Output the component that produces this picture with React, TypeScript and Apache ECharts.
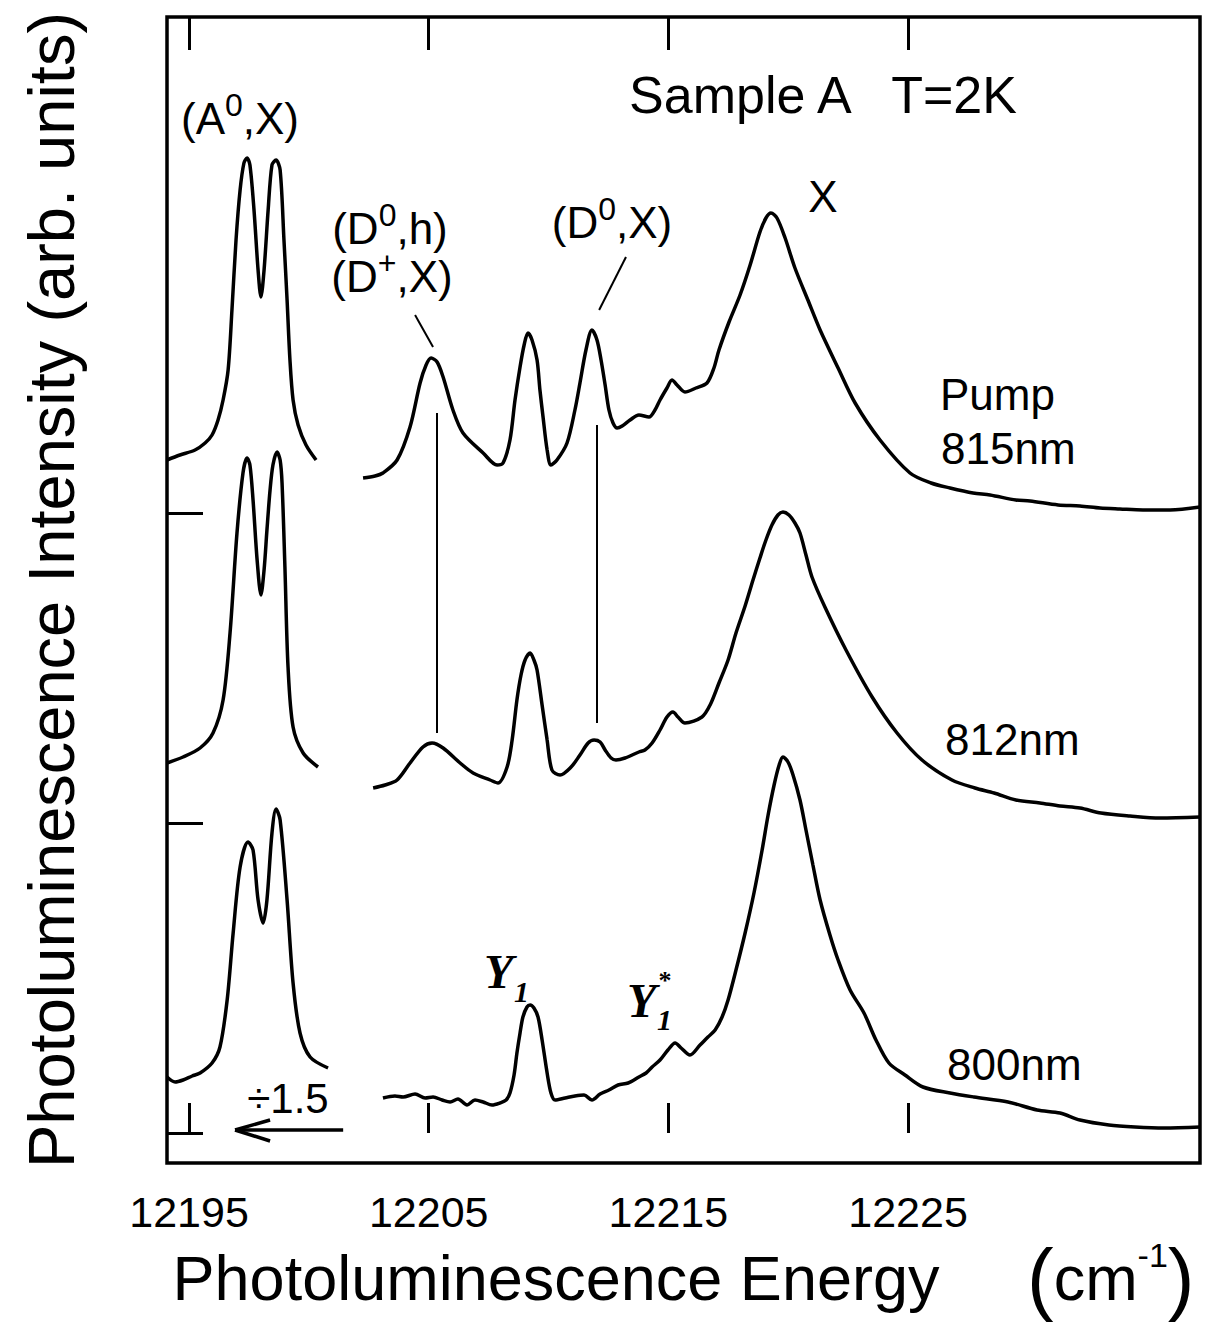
import React, { useEffect, useRef } from "react";
import * as echarts from "echarts";

// Energy axis (cm^-1) and intensity (arb. units, spectra offset vertically)
const xTicks = [12195, 12205, 12215, 12225];
const yTicks = [0, 310, 620];
const xRange = [12194.08, 12237.18];
const yRange = [-30, 1116];

// Pump 815 nm — (A0,X) region (divided by 1.5)
const pump815Left = [
  [12194.08, 673], [12194.62, 678], [12195.25, 683], [12195.67, 690], [12195.96, 698],
  [12196.21, 713], [12196.42, 733], [12196.63, 763], [12196.79, 823], [12196.96, 893],
  [12197.13, 943], [12197.29, 970], [12197.42, 975], [12197.54, 968], [12197.71, 923],
  [12197.88, 863], [12198.0, 836], [12198.13, 863], [12198.3, 923], [12198.46, 968],
  [12198.63, 973], [12198.8, 963], [12198.96, 893], [12199.09, 833], [12199.21, 773],
  [12199.34, 733], [12199.55, 708], [12199.88, 688], [12200.3, 673],
];
// Pump 815 nm — main region
const pump815Right = [
  [12202.26, 655], [12202.76, 657], [12203.09, 660], [12203.68, 673], [12204.22, 706],
  [12204.64, 750], [12204.89, 768], [12205.1, 775], [12205.35, 771], [12205.6, 756],
  [12206.01, 723], [12206.43, 700], [12207.27, 680], [12207.85, 668], [12208.1, 670],
  [12208.39, 693], [12208.6, 733], [12208.81, 766], [12208.98, 788], [12209.14, 800],
  [12209.31, 793], [12209.52, 773], [12209.64, 743], [12209.77, 716], [12209.94, 683],
  [12210.1, 668], [12210.35, 673], [12210.77, 690], [12211.1, 723], [12211.31, 750],
  [12211.56, 783], [12211.81, 803], [12212.02, 793], [12212.19, 773], [12212.36, 748],
  [12212.52, 723], [12212.69, 710], [12212.86, 705], [12213.07, 707], [12213.4, 713],
  [12213.77, 718], [12214.19, 716], [12214.44, 723], [12214.65, 733], [12214.94, 745],
  [12215.15, 753], [12215.36, 748], [12215.69, 741], [12216.15, 745], [12216.61, 750],
  [12216.9, 765], [12217.11, 783], [12217.53, 811], [12217.99, 838], [12218.41, 868],
  [12218.82, 901], [12219.07, 915], [12219.28, 920], [12219.53, 915], [12219.87, 895],
  [12220.28, 865], [12220.82, 833], [12221.33, 803], [12222.08, 765], [12222.79, 730],
  [12223.83, 693], [12225.08, 660], [12225.96, 650], [12226.75, 645], [12227.71, 640],
  [12228.42, 638], [12229.5, 633], [12230.09, 632], [12231.26, 628], [12232.17, 627],
  [12233.01, 625], [12233.84, 624], [12234.8, 623], [12235.93, 623], [12237.18, 626],
];

// 812 nm — (A0,X) region (divided by 1.5)
const pump812Left = [
  [12194.08, 370], [12194.75, 376], [12195.46, 385], [12196.0, 400], [12196.42, 433],
  [12196.71, 500], [12197.0, 600], [12197.25, 660], [12197.42, 675], [12197.54, 668],
  [12197.67, 633], [12197.84, 573], [12198.0, 538], [12198.13, 563], [12198.25, 603],
  [12198.38, 643], [12198.5, 668], [12198.67, 681], [12198.8, 673], [12198.88, 650],
  [12199.0, 566], [12199.13, 466], [12199.34, 406], [12199.76, 380], [12200.38, 366],
];
// 812 nm — main region
const pump812Right = [
  [12202.68, 345], [12203.18, 348], [12203.68, 353], [12204.22, 370], [12204.76, 386],
  [12205.14, 390], [12205.6, 385], [12206.31, 370], [12206.85, 360], [12207.56, 353],
  [12207.89, 350], [12208.27, 366], [12208.48, 393], [12208.68, 433], [12208.85, 458],
  [12209.02, 473], [12209.23, 480], [12209.39, 473], [12209.52, 463], [12209.73, 428],
  [12209.94, 393], [12210.14, 363], [12210.48, 358], [12210.94, 366], [12211.31, 378],
  [12211.65, 390], [12211.9, 393], [12212.15, 391], [12212.36, 383], [12212.61, 375],
  [12212.81, 373], [12213.19, 375], [12213.77, 381], [12214.02, 383], [12214.32, 390],
  [12214.65, 403], [12214.94, 416], [12215.19, 421], [12215.4, 416], [12215.69, 410],
  [12216.4, 416], [12216.74, 428], [12217.11, 450], [12217.49, 473], [12217.82, 500],
  [12218.2, 527], [12218.53, 553], [12218.82, 575], [12219.07, 593], [12219.32, 608],
  [12219.57, 618], [12219.78, 621], [12220.03, 618], [12220.28, 610], [12220.49, 600],
  [12220.74, 578], [12220.99, 556], [12221.53, 526], [12222.41, 483], [12223.5, 436],
  [12224.54, 400], [12225.58, 373], [12226.83, 353], [12227.79, 345], [12228.59, 340],
  [12229.5, 333], [12230.5, 330], [12231.34, 327], [12232.17, 325], [12233.05, 320],
  [12234.26, 317], [12235.51, 315], [12237.18, 316],
];

// 800 nm — (A0,X) region (divided by 1.5)
const pump800Left = [
  [12194.08, 56], [12194.42, 51], [12194.75, 53], [12195.13, 57], [12195.46, 60],
  [12195.96, 70], [12196.29, 86], [12196.59, 133], [12196.84, 200], [12197.13, 266],
  [12197.46, 291], [12197.67, 283], [12197.88, 233], [12198.09, 210], [12198.25, 233],
  [12198.46, 300], [12198.63, 324], [12198.8, 313], [12199.09, 233], [12199.34, 150],
  [12199.63, 100], [12200.05, 76], [12200.8, 65],
];
// 800 nm — main region
const pump800Right = [
  [12203.09, 35], [12203.59, 37], [12203.93, 36], [12204.43, 39], [12204.85, 35],
  [12205.18, 36], [12205.56, 33], [12205.89, 31], [12206.22, 34], [12206.6, 28],
  [12206.93, 33], [12207.27, 31], [12207.64, 28], [12207.97, 30], [12208.23, 33],
  [12208.39, 40], [12208.56, 58], [12208.68, 80], [12208.81, 100], [12208.93, 116],
  [12209.1, 126], [12209.23, 128], [12209.39, 125], [12209.56, 116], [12209.73, 93],
  [12209.94, 60], [12210.1, 40], [12210.27, 33], [12210.69, 35], [12211.1, 37],
  [12211.48, 38], [12211.81, 33], [12212.15, 39], [12212.52, 43], [12212.9, 48],
  [12213.32, 50], [12213.77, 56], [12214.07, 60], [12214.32, 66], [12214.65, 73],
  [12214.98, 83], [12215.28, 90], [12215.53, 85], [12215.9, 78], [12216.32, 88],
  [12216.65, 96], [12216.95, 103], [12217.24, 116], [12217.49, 133], [12217.82, 163],
  [12218.2, 200], [12218.57, 240], [12218.91, 283], [12219.16, 318], [12219.41, 348],
  [12219.62, 368], [12219.78, 376], [12219.99, 371], [12220.2, 358], [12220.49, 333],
  [12220.74, 303], [12221.03, 268], [12221.33, 233], [12221.74, 198], [12222.08, 173],
  [12222.58, 143], [12223.16, 120], [12223.66, 93], [12224.2, 70], [12224.87, 58],
  [12225.62, 46], [12226.75, 40], [12227.75, 36], [12229.17, 31], [12230.38, 23],
  [12231.34, 20], [12232.17, 13], [12233.38, 8], [12234.47, 6], [12235.68, 5],
  [12237.18, 6],
];

// Annotation lines (data coordinates): peak markers, leaders and the ÷1.5 arrow
const markerLines = [
  [[12205.35, 720], [12205.35, 400]],
  [[12212.02, 708], [12212.02, 410]],
  [[12204.43, 818], [12205.18, 786]],
  [[12213.23, 876], [12212.11, 823]],
];
const arrowLines = [
  [[12201.43, 3], [12196.92, 3]],
  [[12196.92, 3], [12198.38, 13]],
  [[12196.92, 3], [12198.38, -8]],
];

const FONT = "'Liberation Sans', Arial, Helvetica, sans-serif";
const SERIF = "'Liberation Serif', 'Times New Roman', serif";

export default function App() {
  const ref = useRef<HTMLDivElement>(null);

  useEffect(() => {
    if (!ref.current) return;
    const chart = echarts.init(ref.current, null, { renderer: "svg" });

    const lineSeries = (name: string, data: number[][], extra: any = {}) => ({
      name,
      type: "line",
      data,
      showSymbol: false,
      symbol: "none",
      smooth: 0.3,
      clip: true,
      lineStyle: { color: "#000", width: 3.5 },
      ...extra,
    });

    const toMark = (lines: number[][][], width: number) =>
      lines.map((l) => [
        { coord: l[0], lineStyle: { color: "#000", width } },
        { coord: l[1] },
      ]);

    const supStyle = { fontSize: 32, verticalAlign: "top", lineHeight: 28, fontFamily: FONT, fill: "#000" };
    const yLetter = (x: number, y: number) => ({
      type: "text",
      x,
      y,
      style: {
        text: "Y",
        fontSize: 48,
        lineHeight: 34,
        fontStyle: "italic",
        fontWeight: "bold",
        fontFamily: SERIF,
        fill: "#000",
        align: "left",
        verticalAlign: "middle",
      },
    });
    const subOne = (x: number, y: number) => ({
      type: "text",
      x,
      y,
      style: {
        text: "1",
        fontSize: 30,
        lineHeight: 22,
        fontStyle: "italic",
        fontWeight: "bold",
        fontFamily: SERIF,
        fill: "#000",
        align: "left",
        verticalAlign: "middle",
      },
    });

    const option: any = {
      animation: false,
      backgroundColor: "#fff",
      grid: {
        left: 167,
        right: 12,
        top: 17,
        bottom: 173,
        show: true,
        borderColor: "#000",
        borderWidth: 3.5,
        backgroundColor: "transparent",
      },
      xAxis: [
        {
          type: "value",
          min: xRange[0],
          max: xRange[1],
          position: "bottom",
          axisLine: { show: false },
          splitLine: { show: false },
          axisTick: {
            show: true,
            inside: true,
            length: 30,
            customValues: xTicks,
            lineStyle: { color: "#000", width: 3 },
          },
          axisLabel: {
            show: true,
            customValues: xTicks,
            margin: 27,
            fontSize: 43,
            fontFamily: FONT,
            color: "#000",
            formatter: (v: number) => String(Math.round(v)),
          },
          name: "Photoluminescence Energy     {p|(}cm{sup|-1}{p|)}",
          nameLocation: "middle",
          nameGap: 72,
          nameTextStyle: {
            fontSize: 63,
            fontFamily: FONT,
            color: "#000",
            rich: {
              p: { fontSize: 80, fontFamily: FONT, color: "#000" },
              sup: { fontSize: 34, fontFamily: FONT, color: "#000", verticalAlign: "top" },
            },
          },
        },
        {
          type: "value",
          min: xRange[0],
          max: xRange[1],
          position: "top",
          axisLine: { show: false },
          splitLine: { show: false },
          axisLabel: { show: false },
          axisTick: {
            show: true,
            inside: true,
            length: 33,
            customValues: xTicks,
            lineStyle: { color: "#000", width: 3 },
          },
        },
      ],
      yAxis: {
        type: "value",
        min: yRange[0],
        max: yRange[1],
        axisLine: { show: false },
        splitLine: { show: false },
        axisLabel: { show: false },
        axisTick: {
          show: true,
          inside: true,
          length: 36,
          customValues: yTicks,
          lineStyle: { color: "#000", width: 3 },
        },
        name: "Photoluminescence Intensity (arb. units)",
        nameLocation: "middle",
        nameGap: 83,
        nameTextStyle: { fontSize: 65, fontFamily: FONT, color: "#000" },
      },
      series: [
        lineSeries("Pump 815nm (A0,X)", pump815Left),
        lineSeries("Pump 815nm", pump815Right, {
          markLine: {
            silent: true,
            symbol: "none",
            label: { show: false },
            lineStyle: { color: "#000", width: 2, type: "solid" },
            data: toMark(markerLines, 2),
          },
        }),
        lineSeries("812nm (A0,X)", pump812Left),
        lineSeries("812nm", pump812Right),
        lineSeries("800nm (A0,X)", pump800Left),
        lineSeries("800nm", pump800Right, {
          markLine: {
            silent: true,
            symbol: "none",
            label: { show: false },
            lineStyle: { color: "#000", width: 3.5, type: "solid" },
            data: toMark(arrowLines, 3.5),
          },
        }),
      ],
      graphic: [
        {
          type: "text",
          x: 240,
          y: 118,
          style: {
            text: "(A{s|0},X)",
            fontSize: 44,
            lineHeight: 58,
            fontFamily: FONT,
            fill: "#000",
            align: "center",
            verticalAlign: "middle",
            rich: { s: supStyle },
          },
        },
        {
          type: "text",
          x: 823,
          y: 95,
          style: {
            text: "Sample A   T=2K",
            fontSize: 52,
            fontFamily: FONT,
            fill: "#000",
            align: "center",
            verticalAlign: "middle",
          },
        },
        {
          type: "text",
          x: 823,
          y: 196,
          style: { text: "X", fontSize: 44, fontFamily: FONT, fill: "#000", align: "center", verticalAlign: "middle" },
        },
        {
          type: "text",
          x: 390,
          y: 228,
          style: {
            text: "(D{s|0},h)",
            fontSize: 44,
            lineHeight: 58,
            fontFamily: FONT,
            fill: "#000",
            align: "center",
            verticalAlign: "middle",
            rich: { s: supStyle },
          },
        },
        {
          type: "text",
          x: 392,
          y: 276,
          style: {
            text: "(D{s|+},X)",
            fontSize: 44,
            lineHeight: 58,
            fontFamily: FONT,
            fill: "#000",
            align: "center",
            verticalAlign: "middle",
            rich: { s: supStyle },
          },
        },
        {
          type: "text",
          x: 612,
          y: 222,
          style: {
            text: "(D{s|0},X)",
            fontSize: 44,
            lineHeight: 58,
            fontFamily: FONT,
            fill: "#000",
            align: "center",
            verticalAlign: "middle",
            rich: { s: supStyle },
          },
        },
        {
          type: "text",
          x: 940,
          y: 394,
          style: { text: "Pump", fontSize: 44, fontFamily: FONT, fill: "#000", align: "left", verticalAlign: "middle" },
        },
        {
          type: "text",
          x: 941,
          y: 448,
          style: { text: "815nm", fontSize: 44, fontFamily: FONT, fill: "#000", align: "left", verticalAlign: "middle" },
        },
        {
          type: "text",
          x: 945,
          y: 739,
          style: { text: "812nm", fontSize: 44, fontFamily: FONT, fill: "#000", align: "left", verticalAlign: "middle" },
        },
        {
          type: "text",
          x: 947,
          y: 1064,
          style: { text: "800nm", fontSize: 44, fontFamily: FONT, fill: "#000", align: "left", verticalAlign: "middle" },
        },
        {
          type: "text",
          x: 288,
          y: 1098,
          style: { text: "÷1.5", fontSize: 42, fontFamily: FONT, fill: "#000", align: "center", verticalAlign: "middle" },
        },
        yLetter(484, 971),
        subOne(514, 991),
        yLetter(627, 1000),
        subOne(657, 1019),
        {
          type: "text",
          x: 665,
          y: 980,
          style: { text: "*", fontSize: 26, lineHeight: 20, fontWeight: "bold", fontFamily: SERIF, fill: "#000", align: "center", verticalAlign: "middle" },
        },
      ],
    };

    chart.setOption(option);
    return () => chart.dispose();
  }, []);

  return (
    <div
      ref={ref}
      style={{ position: "absolute", left: 0, top: 0, width: 1212, height: 1336, background: "#fff" }}
    />
  );
}
